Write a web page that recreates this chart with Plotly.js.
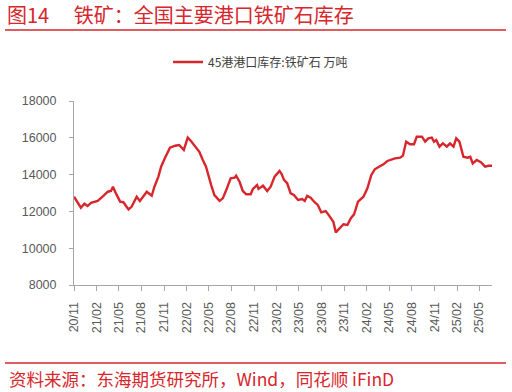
<!DOCTYPE html>
<html>
<head>
<meta charset="utf-8">
<script src="https://cdn.plot.ly/plotly-3.0.1.min.js"></script>
<style>html,body{margin:0;padding:0;background:#fff;}#chart{width:512px;height:392px;}</style>
</head>
<body>
<div id="chart"></div>
<script>
const dates = ["2020-11-01","2020-11-29","2020-12-13","2020-12-26","2021-01-09","2021-02-05","2021-02-28","2021-03-18","2021-03-31","2021-04-08",
"2021-04-20","2021-05-07","2021-05-20","2021-06-10","2021-06-23","2021-07-13","2021-07-26","2021-08-23","2021-09-12","2021-09-23",
"2021-10-09","2021-10-20","2021-11-05","2021-11-25","2021-12-16","2022-01-01","2022-01-20","2022-02-05","2022-02-18","2022-03-11",
"2022-03-24","2022-04-07","2022-04-20","2022-05-11","2022-05-24","2022-06-14","2022-06-27","2022-07-11","2022-07-29","2022-08-14",
"2022-08-20","2022-09-03","2022-09-16","2022-09-30","2022-10-18","2022-10-27","2022-11-13","2022-11-19","2022-12-07","2022-12-24",
"2023-01-07","2023-01-23","2023-02-12","2023-02-21","2023-03-02","2023-03-15","2023-03-29","2023-04-11","2023-04-28","2023-05-15",
"2023-05-25","2023-06-04","2023-06-18","2023-07-04","2023-07-17","2023-07-31","2023-08-18","2023-09-01","2023-09-18","2023-09-28",
"2023-10-11","2023-10-29","2023-11-14","2023-11-28","2023-12-11","2023-12-27","2024-01-18","2024-02-03","2024-02-19","2024-03-04",
"2024-03-21","2024-04-08","2024-04-24","2024-05-10","2024-05-25","2024-06-15","2024-06-26","2024-07-09","2024-07-25","2024-08-10",
"2024-08-21","2024-09-11","2024-09-24","2024-10-07","2024-10-21","2024-10-30","2024-11-08","2024-11-21","2024-12-05","2024-12-21",
"2025-01-03","2025-01-17","2025-01-28","2025-02-10","2025-02-26","2025-03-15","2025-03-26","2025-04-05","2025-04-21","2025-05-08",
"2025-05-25","2025-06-08","2025-06-22"];
const inventory = [12800,12200,12420,12290,12460,12570,12840,13070,13110,13340,
12980,12530,12500,12110,12260,12800,12570,13070,12850,13340,
13890,14430,14920,15460,15570,15610,15340,16010,15830,15460,
15240,14790,14430,13430,12890,12570,12710,13160,13800,13830,
13940,13610,13110,12930,12930,13220,13430,13220,13400,13110,
13340,13890,14200,14020,13710,13530,12980,12890,12620,12670,
12570,12840,12750,12500,12350,11950,12020,11770,11440,10860,
11040,11300,11260,11630,11840,12530,12800,13260,13980,14290,
14430,14560,14740,14830,14880,14920,15030,15790,15650,15650,
16060,16060,15790,15970,16010,15790,15880,15520,15700,15520,
15700,15520,15970,15790,14970,14920,14970,14610,14790,14670,
14430,14480,14480];
const tickDates = ["2020-11-01","2021-02-01","2021-05-01","2021-08-01","2021-11-01","2022-02-01","2022-05-01","2022-08-01","2022-11-01",
"2023-02-01","2023-05-01","2023-08-01","2023-11-01","2024-02-01","2024-05-01","2024-08-01","2024-11-01","2025-02-01","2025-05-01"];
const tickLabels = ["20/11","21/02","21/05","21/08","21/11","22/02","22/05","22/08","22/11",
"23/02","23/05","23/08","23/11","24/02","24/05","24/08","24/11","25/02","25/05"];
const yTicks = [8000,10000,12000,14000,16000,18000];
const yTickLabels = ["8000","10000","12000","14000","16000","18000"];
const seriesName = "45港港口库存:铁矿石 万吨";
const titleText = "图14　 铁矿：全国主要港口铁矿石库存";
const sourceText = "资料来源：东海期货研究所，Wind，同花顺 iFinD";

const RED = "#d7262c";
const CJK = "Noto Sans CJK SC, sans-serif";
const axisFont = {family: "Liberation Sans, Arial, sans-serif", size: 12.5, color: "#595959"};

const trace = {
  x: dates, y: inventory, type: "scatter", mode: "lines", name: seriesName,
  line: {color: RED, width: 2.4}
};

const layout = {
  width: 512, height: 392,
  margin: {l: 74, r: 20, t: 101, b: 107},
  paper_bgcolor: "#fff", plot_bgcolor: "#fff",
  showlegend: true,
  legend: {
    orientation: "h", x: 0.225, xanchor: "left", y: 1.212, yanchor: "middle",
    font: {family: CJK, size: 12, color: "#404040"}, itemwidth: 30,
    bgcolor: "rgba(0,0,0,0)"
  },
  xaxis: {
    type: "date", range: ["2020-11-01", "2025-06-22"],
    tickmode: "array", tickvals: tickDates, ticktext: tickLabels, tickangle: -90,
    showline: true, linecolor: "#a6a6a6", linewidth: 1,
    ticks: "outside", ticklen: 5, tickcolor: "#a6a6a6",
    showgrid: false, zeroline: false, tickfont: axisFont, ticklabelstandoff: 6
  },
  yaxis: {
    range: [8000, 18000], tickmode: "array", tickvals: yTicks, ticktext: yTickLabels,
    showline: true, linecolor: "#a6a6a6", linewidth: 1,
    ticks: "outside", ticklen: 4, tickcolor: "#a6a6a6",
    showgrid: false, zeroline: false, tickfont: axisFont, ticklabelstandoff: 10
  },
  title: {
    text: titleText, x: 7/512, xref: "container", xanchor: "left",
    y: 1 - 16/392, yref: "container", yanchor: "middle",
    font: {family: CJK, size: 20, color: RED}
  },
  annotations: [{
    text: sourceText, xref: "paper", yref: "paper",
    x: (7 - 74) / 418, y: (285 - 378) / 184, xanchor: "left", yanchor: "middle",
    showarrow: false, font: {family: CJK, size: 17.5, color: RED}
  }],
  shapes: [
    {type: "line", xref: "paper", yref: "paper", x0: (5 - 74) / 418, x1: (506 - 74) / 418,
     y0: (285 - 30) / 184, y1: (285 - 30) / 184, line: {color: RED, width: 1.5}},
    {type: "line", xref: "paper", yref: "paper", x0: (5 - 74) / 418, x1: (506 - 74) / 418,
     y0: (285 - 363) / 184, y1: (285 - 363) / 184, line: {color: RED, width: 1.5}}
  ]
};

Plotly.newPlot("chart", [trace], layout, {displayModeBar: false, staticPlot: true});
</script>
</body>
</html>
